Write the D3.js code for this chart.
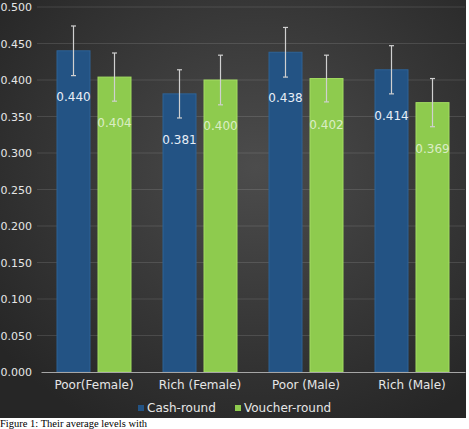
<!DOCTYPE html>
<html>
<head>
<meta charset="utf-8">
<script src="https://cdn.jsdelivr.net/npm/d3@7/dist/d3.min.js"></script>
<style>
  body { margin: 0; background: #fff; }
  svg { display: block; }
</style>
</head>
<body>
<script>
	// chart data
	var categories = ["Poor(Female)", "Rich (Female)", "Poor (Male)", "Rich (Male)"];
	var seriesNames = ["Cash-round", "Voucher-round"];
	var cashValues = [0.440, 0.381, 0.438, 0.414];
	var voucherValues = [0.404, 0.400, 0.402, 0.369];
	var cashErrors = [0.034, 0.033, 0.034, 0.033];
	var voucherErrors = [0.033, 0.034, 0.032, 0.033];
	var yTicks = [0, 0.05, 0.1, 0.15, 0.2, 0.25, 0.3, 0.35, 0.4, 0.45, 0.5];

	var w = 469;
	var h = 429;
	var colors = { "Cash-round": "#235384", "Voucher-round": "#8ecb4e" };
	var edges = { "Cash-round": "#2e6396", "Voucher-round": "#a3dc62" };
	var font = "'DejaVu Sans', sans-serif";

	var svg = d3.select("body")
		.append("svg")
		.attr("width", w)
		.attr("height", h);

	// dark radial background
	var grad = svg.append("defs")
		.append("radialGradient")
		.attr("id", "bg")
		.attr("cx", "55%").attr("cy", "40%").attr("r", "70%");
	grad.append("stop").attr("offset", "0%").attr("stop-color", "#4c4c4c");
	grad.append("stop").attr("offset", "100%").attr("stop-color", "#262626");

	svg.append("rect")
		.attr("x", 0).attr("y", 0)
		.attr("width", 466).attr("height", 418)
		.attr("fill", "url(#bg)");

	// scales
	var x0 = d3.scaleBand()
		.domain(categories)
		.range([41, 465]);
	var x1 = d3.scaleBand()
		.domain(seriesNames)
		.range([0, x0.bandwidth()])
		.paddingInner(8 / 41)
		.paddingOuter(0.39);
	var y = d3.scaleLinear()
		.domain([0, 0.5])
		.range([372, 7]);

	// gridlines
	svg.append("g")
		.selectAll("line")
		.data(yTicks.slice(1))
		.enter()
		.append("line")
		.attr("x1", 37).attr("x2", 465)
		.attr("y1", function(d) { return y(d); })
		.attr("y2", function(d) { return y(d); })
		.attr("stroke", "#ffffff")
		.attr("stroke-opacity", 0.12)
		.attr("stroke-width", 1);

	// y axis labels
	var yAxis = d3.axisLeft(y)
		.tickValues(yTicks)
		.tickFormat(d3.format(".3f"))
		.tickSize(0)
		.tickPadding(2);
	var yGuide = svg.append("g")
		.attr("transform", "translate(34,0)")
		.call(yAxis);
	yGuide.select(".domain").remove();
	yGuide.selectAll("text")
		.attr("fill", "#e6e6e6")
		.style("font-family", font)
		.style("font-size", "11px");

	// build rows from arrays
	var rows = categories.map(function(c, i) {
		return [
			{ cat: c, name: "Cash-round", value: cashValues[i], err: cashErrors[i] },
			{ cat: c, name: "Voucher-round", value: voucherValues[i], err: voucherErrors[i] }
		];
	});
	var flat = [].concat.apply([], rows);

	// bars
	svg.append("g")
		.selectAll("rect")
		.data(flat)
		.enter()
		.append("rect")
		.attr("x", function(d) { return x0(d.cat) + x1(d.name); })
		.attr("y", function(d) { return y(d.value); })
		.attr("width", x1.bandwidth())
		.attr("height", function(d) { return y(0) - y(d.value); })
		.attr("fill", function(d) { return colors[d.name]; })
		.attr("stroke", function(d) { return edges[d.name]; })
		.attr("stroke-width", 1);

	// value labels
	svg.append("g")
		.selectAll("text")
		.data(flat)
		.enter()
		.append("text")
		.text(function(d) { return d3.format(".3f")(d.value); })
		.attr("x", function(d) { return x0(d.cat) + x1(d.name) + x1.bandwidth() / 2; })
		.attr("y", function(d) { return y(d.value) + 46; })
		.attr("dy", "0.35em")
		.attr("text-anchor", "middle")
		.attr("fill", function(d) { return d.name == "Cash-round" ? "#e8eef6" : "#eef7e4"; })
		.attr("fill-opacity", function(d) { return d.name == "Cash-round" ? 1 : 0.8; })
		.style("font-family", font)
		.style("font-size", "12px");

	// error bars
	var eb = svg.append("g")
		.attr("stroke", "#d0d0d0")
		.attr("stroke-width", 1.2);
	flat.forEach(function(d) {
		var cx = x0(d.cat) + x1(d.name) + x1.bandwidth() / 2;
		var top = y(d.value + d.err);
		var bot = y(d.value - d.err);
		eb.append("line").attr("x1", cx).attr("x2", cx).attr("y1", top).attr("y2", bot);
		eb.append("line").attr("x1", cx - 2.5).attr("x2", cx + 2.5).attr("y1", top).attr("y2", top);
		eb.append("line").attr("x1", cx - 2.5).attr("x2", cx + 2.5).attr("y1", bot).attr("y2", bot);
	});

	// x axis
	var xAxis = d3.axisBottom(x0)
		.tickSize(0)
		.tickPadding(8);
	var xGuide = svg.append("g")
		.attr("transform", "translate(0," + y(0) + ")")
		.call(xAxis);
	xGuide.select(".domain")
		.attr("stroke", "#a6a6a6")
		.attr("stroke-width", 1.2);
	xGuide.selectAll("text")
		.attr("fill", "#e6e6e6")
		.style("font-family", font)
		.style("font-size", "12px");

	// legend
	var legendX = [138, 235];
	var legend = svg.append("g")
		.selectAll("g")
		.data(seriesNames)
		.enter()
		.append("g")
		.attr("transform", function(d, i) { return "translate(" + legendX[i] + ",408)"; });
	legend.append("rect")
		.attr("x", 0).attr("y", -3)
		.attr("width", 6).attr("height", 6)
		.attr("fill", function(d) { return colors[d]; });
	legend.append("text")
		.text(function(d) { return d; })
		.attr("x", 9)
		.attr("dy", "0.35em")
		.attr("fill", "#e6e6e6")
		.style("font-family", font)
		.style("font-size", "12px");

	// caption below the chart
	svg.append("text")
		.text("Figure 1: Their average levels with")
		.attr("x", 0)
		.attr("y", 427)
		.attr("fill", "#000")
		.style("font-family", "'Liberation Serif', serif")
		.style("font-size", "10.5px");
</script>
</body>
</html>
